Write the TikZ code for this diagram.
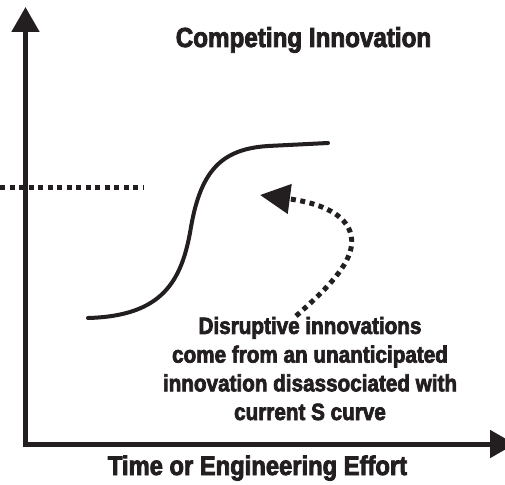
\documentclass[tikz,border=0pt]{standalone}
\usepackage{fontspec}
\setmainfont{Liberation Sans}[FakeStretch=0.88, BoldFont={Liberation Sans Bold}, BoldFeatures={FakeStretch=0.88, FakeBold=3}]
\usetikzlibrary{arrows.meta}
\definecolor{ink}{HTML}{231F20}
\tikzset{
  axis/.style={draw=ink, line width=5pt, line cap=butt},
  scurve/.style={draw=ink, line width=4pt, line cap=round},
  dotline/.style={draw=ink, line width=5pt, dash pattern=on 5pt off 4.5pt},
  lbl/.style={text=ink, inner sep=0pt, font=\bfseries},
}
\begin{document}
\begin{tikzpicture}[x=1pt,y=-1pt]
\useasboundingbox (0,0) rectangle (505,484);
% axes
\coordinate (o) at (25.5,444);
\coordinate (ytop) at (25.5,7);
\coordinate (xend) at (515,444);
\draw[axis, -{Triangle[length=25pt,width=27pt]}] (o) -- (ytop);
\draw[axis, -{Triangle[length=25pt,width=27pt]}] ([xshift=-2.5pt]o) -- (xend);
% dotted level line
\coordinate (d1) at (0,187);
\coordinate (d2) at (144,187);
\draw[dotline] (d1) -- (d2);
% S curve
\coordinate (s0) at (88,318);
\coordinate (s1) at (191,227);
\coordinate (s2) at (268,146);
\coordinate (s3) at (328,143);
\draw[scurve] (s0) .. controls (162,316) and (182,282) .. (s1)
  .. controls (201,170) and (222,149) .. (s2) -- (s3);
% texts
\node[lbl, font=\bfseries\fontsize{27.5}{30}\selectfont, anchor=base] (title) at (303.5,47) {Competing Innovation};
\node[lbl, font=\bfseries\fontsize{27}{30}\selectfont, anchor=base] (xlabel) at (257.5,475) {Time or Engineering Effort};
\node[lbl, font=\bfseries\fontsize{23.5}{28.7}\selectfont, align=center, anchor=base] (note) at (310,420)
  {Disruptive innovations\\come from an unanticipated\\innovation disassociated with\\current S curve};
% dotted arrow
\coordinate (a0) at (296,316);
\coordinate (tip) at (260,195);
\draw[dotline, -{Triangle[length=30pt,width=29pt]}]
  (a0) .. controls (330,286) and (366,252) .. (346,224)
  .. controls (334,207) and (305,201) .. (tip);
\end{tikzpicture}
\end{document}
